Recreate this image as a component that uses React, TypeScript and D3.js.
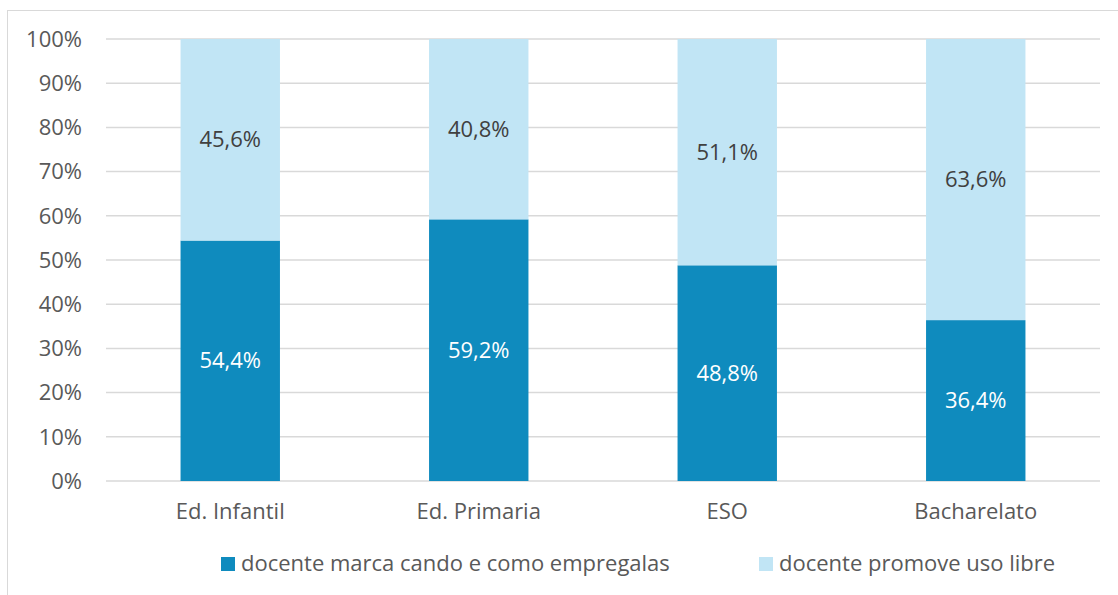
import React from "react";
import * as d3 from "d3";

const categories = ["Ed. Infantil", "Ed. Primaria", "ESO", "Bacharelato"];
const seriesNames = ["docente marca cando e como empregalas", "docente promove uso libre"];
const marcaValues = [54.4, 59.2, 48.8, 36.4];
const libreValues = [45.6, 40.8, 51.1, 63.6];
const yTicks = [0, 10, 20, 30, 40, 50, 60, 70, 80, 90, 100];
const colors = ["#0F8BBE", "#C1E5F5"];

const W = 1118;
const H = 595;
const FONT = "'Open Sans', sans-serif";
const FS = 22;

export default function App() {
  const left = 106, right = 1100, top = 39, bottom = 481;
  const x = d3.scaleBand<string>().domain(categories).range([left, right]).paddingInner(0.6).paddingOuter(0.3);
  const y = d3.scaleLinear().domain([0, 100]).range([bottom, top]);
  const fmt = (v: number) => v.toFixed(1).replace(".", ",") + "%";

  return (
    <svg width={W} height={H} style={{ position: "absolute", left: 0, top: 0, fontFamily: FONT }}>
      <rect x={0} y={0} width={W} height={H} fill="#fff" />
      <rect x={7.5} y={10.5} width={1300} height={800} fill="none" stroke="#D9D9D9" strokeWidth={1} />
      {yTicks.map((t) => (
        <g key={t}>
          <line x1={left} x2={right} y1={y(t)} y2={y(t)} stroke="#D9D9D9" strokeWidth={1.5} />
          <text x={82} y={y(t)} dy="0.35em" textAnchor="end" fontSize={FS} fill="#595959">{t}%</text>
        </g>
      ))}
      {categories.map((c, i) => {
        const x0 = x(c)!;
        const bw = x.bandwidth();
        const m = marcaValues[i];
        const l = libreValues[i];
        return (
          <g key={c}>
            <rect x={x0} y={y(m)} width={bw} height={y(0) - y(m)} fill={colors[0]} />
            <rect x={x0} y={y(100)} width={bw} height={y(m) - y(100)} fill={colors[1]} />
            <text x={x0 + bw / 2} y={(y(0) + y(m)) / 2} dy="0.35em" textAnchor="middle" fontSize={FS} fill="#FFFFFF">{fmt(m)}</text>
            <text x={x0 + bw / 2} y={(y(m) + y(100)) / 2} dy="0.35em" textAnchor="middle" fontSize={FS} fill="#404040">{fmt(l)}</text>
            <text x={x0 + bw / 2} y={511} dy="0.35em" textAnchor="middle" fontSize={FS} fill="#595959">{c}</text>
          </g>
        );
      })}
      {seriesNames.map((s, i) => {
        const lx = [221, 759][i];
        return (
          <g key={s}>
            <rect x={lx} y={557} width={14} height={14} fill={colors[i]} />
            <text x={lx + 20} y={563} dy="0.35em" fontSize={FS} fill="#595959">{s}</text>
          </g>
        );
      })}
    </svg>
  );
}
